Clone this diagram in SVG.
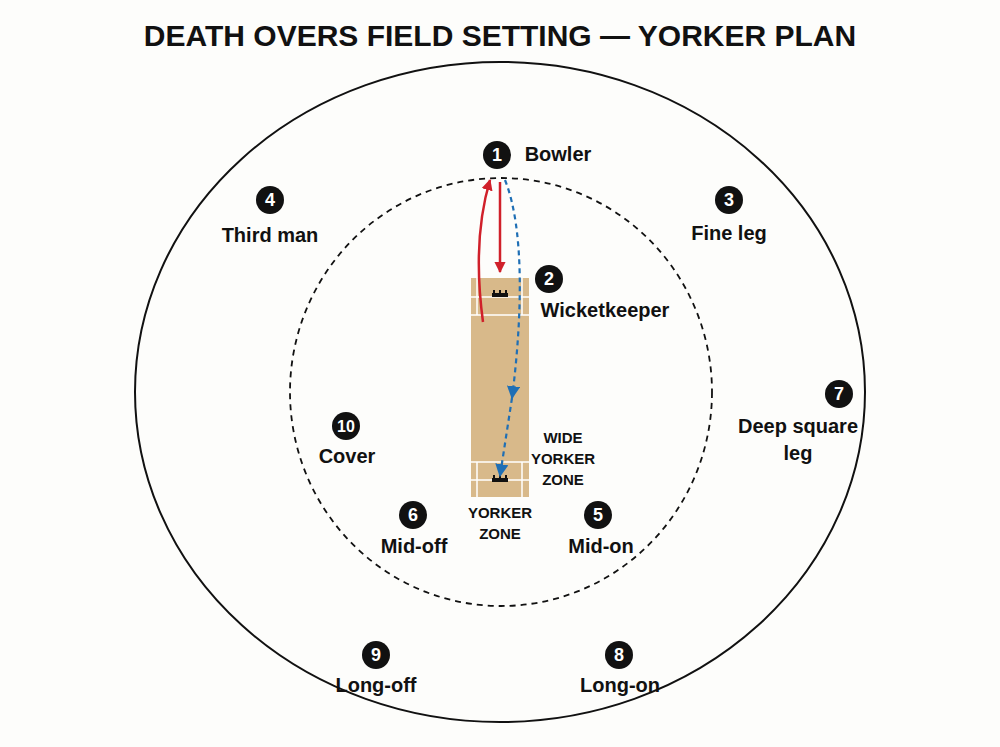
<svg xmlns="http://www.w3.org/2000/svg" width="1000" height="747" viewBox="0 0 1000 747">
<defs>
<style>
.t{font-family:"Liberation Sans",Arial,sans-serif;font-weight:bold;fill:#111;font-size:20px;text-anchor:middle}
.z{font-family:"Liberation Sans",Arial,sans-serif;font-weight:bold;fill:#111;font-size:15px;text-anchor:middle}
.n{font-family:"Liberation Sans",Arial,sans-serif;font-weight:bold;fill:#fff;font-size:18px;text-anchor:middle}
.w{stroke:#fff;stroke-width:1.5;fill:none}
</style>
<marker id="ar" viewBox="0 0 10 10" refX="9" refY="5" markerWidth="4.5" markerHeight="4.5" orient="auto"><path d="M0,0L10,5L0,10z" fill="#d0202a"/></marker>
<marker id="ab" viewBox="0 0 10 10" refX="9" refY="5" markerWidth="6" markerHeight="6" orient="auto"><path d="M0,0L10,5L0,10z" fill="#1f6fb5"/></marker>
</defs>
<rect width="1000" height="747" fill="#fdfdfb"/>
<text x="500" y="46" class="t" style="font-size:30px">DEATH OVERS FIELD SETTING — YORKER PLAN</text>
<ellipse cx="500" cy="392" rx="365" ry="330" fill="none" stroke="#111" stroke-width="2"/>
<ellipse cx="501" cy="392" rx="211" ry="214" fill="none" stroke="#111" stroke-width="1.8" stroke-dasharray="6 5"/>
<g id="pitch">
<rect x="471" y="278" width="58" height="219" fill="#d8b98a"/>
<path class="w" d="M471,297H529M471,315H529M477,278V315M522,278V315M471,462H529M471,480H529M477,462V497M522,462V497"/>
<rect x="492" y="293" width="16" height="4" fill="#111"/><path d="M494,293v-3M500,293v-3M506,293v-3" stroke="#111" stroke-width="2"/>
<rect x="492" y="478" width="16" height="4" fill="#111"/><path d="M494,478v-3M500,478v-3M506,478v-3" stroke="#111" stroke-width="2"/>
</g>
<g id="connectors">
<path d="M500,182V272" stroke="#d0202a" stroke-width="2.5" fill="none" marker-end="url(#ar)"/>
<path d="M483,322C476,270 478,220 490,180" stroke="#d0202a" stroke-width="2.5" fill="none" marker-end="url(#ar)"/>
<path d="M505,180C525,230 522,320 512,398" stroke="#1f6fb5" stroke-width="2.2" stroke-dasharray="5 4" fill="none" marker-end="url(#ab)"/>
<path d="M512,398L500,476" stroke="#1f6fb5" stroke-width="2.2" stroke-dasharray="5 4" fill="none" marker-end="url(#ab)"/>
</g>
<g id="n1"><circle cx="497" cy="155" r="14" fill="#111"/><text x="497" y="161" class="n">1</text><text x="558" y="161" class="t">Bowler</text></g>
<g id="n2"><circle cx="549" cy="279" r="14" fill="#111"/><text x="549" y="285" class="n">2</text><text x="605" y="317" class="t">Wicketkeeper</text></g>
<g id="n3"><circle cx="729" cy="200" r="14" fill="#111"/><text x="729" y="206" class="n">3</text><text x="729" y="240" class="t">Fine leg</text></g>
<g id="n4"><circle cx="270" cy="200" r="14" fill="#111"/><text x="270" y="206" class="n">4</text><text x="270" y="242" class="t">Third man</text></g>
<g id="n5"><circle cx="598" cy="515" r="14" fill="#111"/><text x="598" y="521" class="n">5</text><text x="601" y="553" class="t">Mid-on</text></g>
<g id="n6"><circle cx="413" cy="515" r="14" fill="#111"/><text x="413" y="521" class="n">6</text><text x="414" y="553" class="t">Mid-off</text></g>
<g id="n7"><circle cx="839" cy="394" r="14" fill="#111"/><text x="839" y="400" class="n">7</text><text x="798" y="433" class="t">Deep square</text><text x="798" y="460" class="t">leg</text></g>
<g id="n8"><circle cx="619" cy="655" r="14" fill="#111"/><text x="619" y="661" class="n">8</text><text x="620" y="692" class="t">Long-on</text></g>
<g id="n9"><circle cx="376" cy="655" r="14" fill="#111"/><text x="376" y="661" class="n">9</text><text x="376" y="692" class="t">Long-off</text></g>
<g id="n10"><circle cx="346" cy="426" r="14" fill="#111"/><text x="346" y="432" class="n" style="font-size:16px">10</text><text x="347" y="463" class="t">Cover</text></g>
<g id="zones">
<text x="563" y="443" class="z">WIDE</text><text x="563" y="464" class="z">YORKER</text><text x="563" y="485" class="z">ZONE</text>
<text x="500" y="518" class="z">YORKER</text><text x="500" y="539" class="z">ZONE</text>
</g>
</svg>
